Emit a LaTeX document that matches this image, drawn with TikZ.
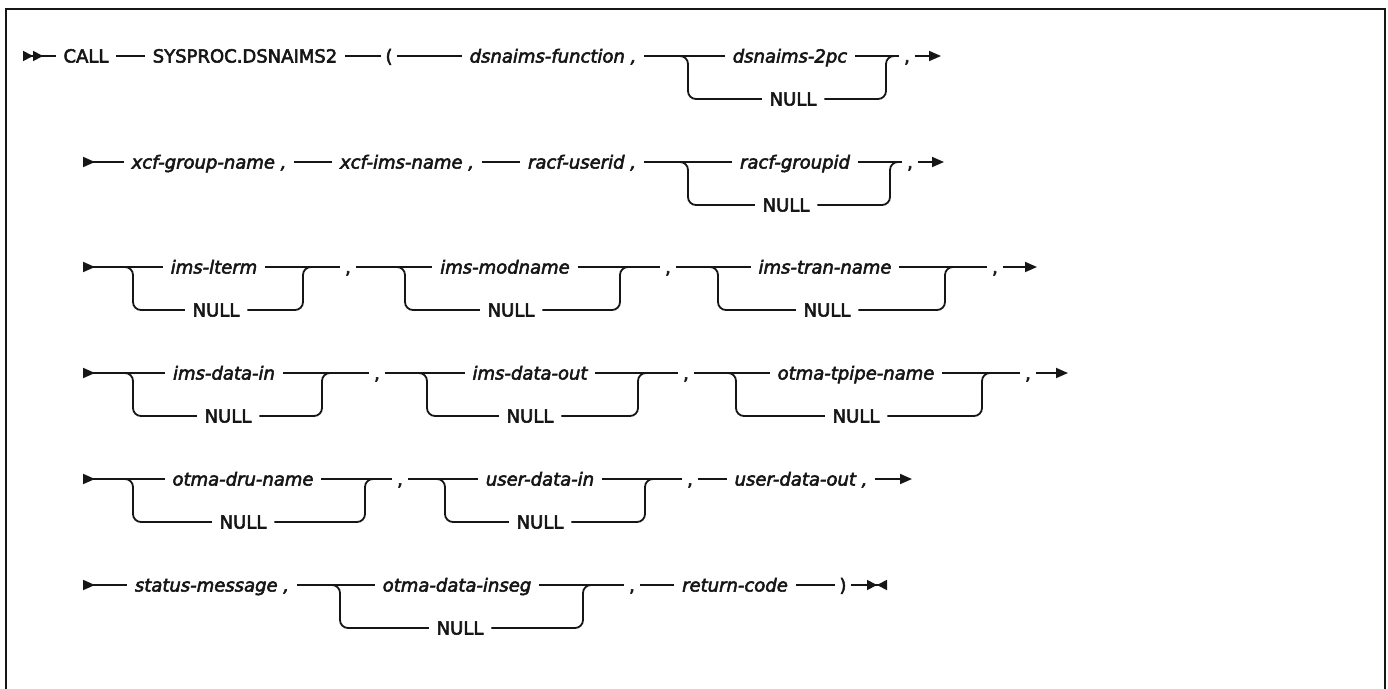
\documentclass[tikz,border=0pt]{standalone}
\usepackage{fontspec}
\newfontfamily\railfont{DejaVu Sans}[FakeBold=3]
\usetikzlibrary{arrows.meta}
\definecolor{cink}{HTML}{161616}
\tikzset{
  every picture/.style={line width=1.8pt},
  word/.style={font=\railfont\fontsize{18}{21}\selectfont, text=cink, inner xsep=7pt, inner ysep=0pt, text height=13pt, text depth=0pt},
  var/.style={word, font=\railfont\fontsize{18}{21}\selectfont\itshape},
  sep/.style={word, inner xsep=4pt},
  rail/.style={draw=cink, line width=1.8pt},
  railbend/.style={rail, rounded corners=8pt},
  railin/.style={rail, {Triangle[reversed, length=12pt, width=10pt]}-},
  railfirst/.style={rail, {Triangle[reversed, length=10pt, width=10pt] Triangle[reversed, length=10pt, width=10pt]}-},
  railout/.style={rail, -{Triangle[length=12pt, width=10pt]}},
  raillast/.style={rail, -{Triangle[length=10pt, width=10pt] Triangle[reversed, length=10pt, width=10pt]}},
  frame/.style={draw=cink, line width=2.4pt},
}
\begin{document}
\begin{tikzpicture}[x=1pt, y=-1pt]
  \newcommand{\nullpath}[3]{%
    \draw[railbend] ([xshift=-10pt]#1) -- (#1) |- (#2);
    \draw[railbend] (#2) -| (#3) -- ([xshift=10pt]#3);}
  \useasboundingbox (0,0) rectangle (1388,688);
  \draw[frame] (6,700) -- (6,9) -- (1385,9) -- (1385,700);

  % row 1
  \coordinate (s1) at (23,56);
  \node[word] (call) at (86,56) {CALL};
  \node[word] (proc) at (245,56) {SYSPROC.DSNAIMS2};
  \node[sep] (lpar) at (389,56) {(};
  \node[var] (fn) at (553,56) {dsnaims-function ,};
  \coordinate (f1) at (688,56);
  \node[var] (pc) at (790,56) {dsnaims-2pc};
  \node[word] (n1) at (793,99) {NULL};
  \coordinate (m1) at (886,56);
  \node[sep] (c1) at (907,56) {,};
  \coordinate (e1) at (941,56);
  \draw[railfirst] (s1) -- (call);
  \draw[rail] (call) -- (proc);
  \draw[rail] (proc) -- (lpar);
  \draw[rail] (lpar) -- (fn);
  \draw[rail] (fn) -- (pc);
  \draw[rail] (pc) -- (c1);
  \nullpath{f1}{n1}{m1}
  \draw[railout] (c1) -- (e1);

  % row 2
  \coordinate (s2) at (83,162);
  \node[var] (grp) at (209,162) {xcf-group-name ,};
  \node[var] (xims) at (407,162) {xcf-ims-name ,};
  \node[var] (uid) at (582,162) {racf-userid ,};
  \coordinate (f2) at (688,162);
  \node[var] (gid) at (795,162) {racf-groupid};
  \node[word] (n2) at (786,205) {NULL};
  \coordinate (m2) at (890,162);
  \node[sep] (c2) at (910,162) {,};
  \coordinate (e2) at (944,162);
  \draw[railin] (s2) -- (grp);
  \draw[rail] (grp) -- (xims);
  \draw[rail] (xims) -- (uid);
  \draw[rail] (uid) -- (gid);
  \draw[rail] (gid) -- (c2);
  \nullpath{f2}{n2}{m2}
  \draw[railout] (c2) -- (e2);

  % row 3
  \coordinate (s3) at (83,267);
  \coordinate (f3a) at (133,267);
  \node[var] (lterm) at (214,267) {ims-lterm};
  \node[word] (n3a) at (216,310) {NULL};
  \coordinate (m3a) at (303,267);
  \node[sep] (c3a) at (348,267) {,};
  \coordinate (f3b) at (405,267);
  \node[var] (mod) at (505,267) {ims-modname};
  \node[word] (n3b) at (511,310) {NULL};
  \coordinate (m3b) at (620,267);
  \node[sep] (c3b) at (668,267) {,};
  \coordinate (f3c) at (718,267);
  \node[var] (tran) at (825,267) {ims-tran-name};
  \node[word] (n3c) at (827,310) {NULL};
  \coordinate (m3c) at (945,267);
  \node[sep] (c3c) at (995,267) {,};
  \coordinate (e3) at (1037,267);
  \draw[railin] (s3) -- (lterm);
  \draw[rail] (lterm) -- (c3a);
  \draw[rail] (c3a) -- (mod);
  \draw[rail] (mod) -- (c3b);
  \draw[rail] (c3b) -- (tran);
  \draw[rail] (tran) -- (c3c);
  \nullpath{f3a}{n3a}{m3a}
  \nullpath{f3b}{n3b}{m3b}
  \nullpath{f3c}{n3c}{m3c}
  \draw[railout] (c3c) -- (e3);

  % row 4
  \coordinate (s4) at (83,373);
  \coordinate (f4a) at (133,373);
  \node[var] (din) at (224,373) {ims-data-in};
  \node[word] (n4a) at (228,416) {NULL};
  \coordinate (m4a) at (322,373);
  \node[sep] (c4a) at (377,373) {,};
  \coordinate (f4b) at (427,373);
  \node[var] (dout) at (530,373) {ims-data-out};
  \node[word] (n4b) at (530,416) {NULL};
  \coordinate (m4b) at (638,373);
  \node[sep] (c4b) at (686,373) {,};
  \coordinate (f4c) at (736,373);
  \node[var] (tpipe) at (856,373) {otma-tpipe-name};
  \node[word] (n4c) at (856,416) {NULL};
  \coordinate (m4c) at (982,373);
  \node[sep] (c4c) at (1028,373) {,};
  \coordinate (e4) at (1068,373);
  \draw[railin] (s4) -- (din);
  \draw[rail] (din) -- (c4a);
  \draw[rail] (c4a) -- (dout);
  \draw[rail] (dout) -- (c4b);
  \draw[rail] (c4b) -- (tpipe);
  \draw[rail] (tpipe) -- (c4c);
  \nullpath{f4a}{n4a}{m4a}
  \nullpath{f4b}{n4b}{m4b}
  \nullpath{f4c}{n4c}{m4c}
  \draw[railout] (c4c) -- (e4);

  % row 5
  \coordinate (s5) at (83,479);
  \coordinate (f5a) at (133,479);
  \node[var] (dru) at (243,479) {otma-dru-name};
  \node[word] (n5a) at (243,522) {NULL};
  \coordinate (m5a) at (365,479);
  \node[sep] (c5a) at (400,479) {,};
  \coordinate (f5b) at (445,479);
  \node[var] (udi) at (540,479) {user-data-in};
  \node[word] (n5b) at (540,522) {NULL};
  \coordinate (m5b) at (645,479);
  \node[sep] (c5b) at (690,479) {,};
  \node[var] (udo) at (801,479) {user-data-out ,};
  \coordinate (e5) at (912,479);
  \draw[railin] (s5) -- (dru);
  \draw[rail] (dru) -- (c5a);
  \draw[rail] (c5a) -- (udi);
  \draw[rail] (udi) -- (c5b);
  \draw[rail] (c5b) -- (udo);
  \nullpath{f5a}{n5a}{m5a}
  \nullpath{f5b}{n5b}{m5b}
  \draw[railout] (udo) -- (e5);

  % row 6
  \coordinate (s6) at (83,585);
  \node[var] (stat) at (212,585) {status-message ,};
  \coordinate (f6) at (340,585);
  \node[var] (dins) at (457,585) {otma-data-inseg};
  \node[word] (n6) at (460,628) {NULL};
  \coordinate (m6) at (583,585);
  \node[sep] (c6) at (632,585) {,};
  \node[var] (rc) at (735,585) {return-code};
  \node[sep] (rpar) at (843,585) {)};
  \coordinate (e6) at (887,585);
  \draw[railin] (s6) -- (stat);
  \draw[rail] (stat) -- (dins);
  \draw[rail] (dins) -- (c6);
  \draw[rail] (c6) -- (rc);
  \draw[rail] (rc) -- (rpar);
  \nullpath{f6}{n6}{m6}
  \draw[raillast] (rpar) -- (e6);
\end{tikzpicture}
\end{document}
